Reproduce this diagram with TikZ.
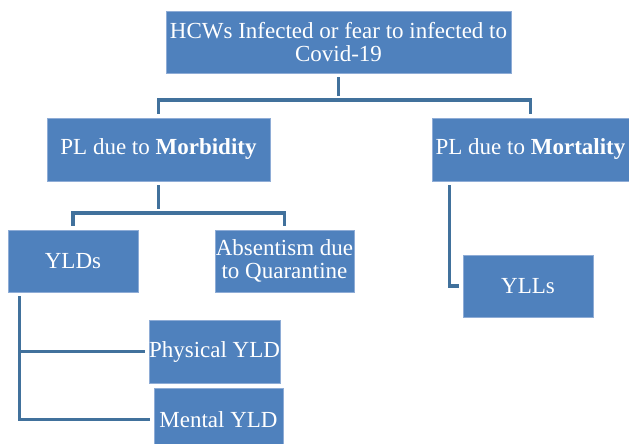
\documentclass[tikz,border=0pt]{standalone}
\usepackage{fontspec}
\setmainfont{Liberation Serif}
\definecolor{boxfill}{HTML}{4F81BD}
\definecolor{boxline}{HTML}{8EACD6}
\definecolor{conn}{HTML}{41719C}
\begin{document}
\begin{tikzpicture}[x=1pt,y=-1pt,
  box/.style={rectangle, fill=boxfill, draw=boxline, line width=0.8pt, inner sep=0pt,
    text=white, align=center, font=\fontsize{23}{23}\selectfont},
  conline/.style={draw=conn, line width=3.5pt, shorten <=4pt, shorten >=4pt}]
\useasboundingbox (0,0) rectangle (629,444);
\begin{scope}
\clip (0,0) rectangle (629,444);
\node[box, minimum width=345pt, minimum height=62pt] (top) at (338.5,42) {HCWs Infected or fear to infected to\\Covid-19};
\node[box, minimum width=223pt, minimum height=63pt] (morb) at (158.5,149.5) {PL due to \textbf{Morbidity}};
\node[box, minimum width=197pt, minimum height=63pt] (mort) at (530.5,149.5) {PL due to \textbf{Mortality}};
\node[box, minimum width=130pt, minimum height=62pt] (ylds) at (73,261) {YLDs};
\node[box, minimum width=139pt, minimum height=62pt] (abs) at (284.5,261) {Absentism due\\to Quarantine};
\node[box, minimum width=130pt, minimum height=62pt] (ylls) at (528,286) {YLLs};
\node[box, minimum width=129pt, minimum height=63pt] (phys) at (214.5,351.5) {Physical YLD};
\node[box, minimum width=129pt, minimum height=63pt] (ment) at (218.5,419.5) {Mental YLD};
\coordinate (h1) at (0,100);
\coordinate (h2) at (0,213);
\draw[conline] (top.south) -- (top.south |- h1);
\draw[conline] (morb.north) -- (morb.north |- h1) -- (mort.north |- h1) -- (mort.north);
\draw[conline] (morb.south) -- (morb.south |- h2);
\draw[conline] (ylds.north) -- (ylds.north |- h2) -- (abs.north |- h2) -- (abs.north);
\draw[conline] ([xshift=18pt]mort.south west) |- (ylls.west);
\draw[conline] ([xshift=12pt]ylds.south west) |- (phys.west);
\draw[conline] ([xshift=12pt]ylds.south west) |- (ment.west);
\end{scope}
\end{tikzpicture}
\end{document}
